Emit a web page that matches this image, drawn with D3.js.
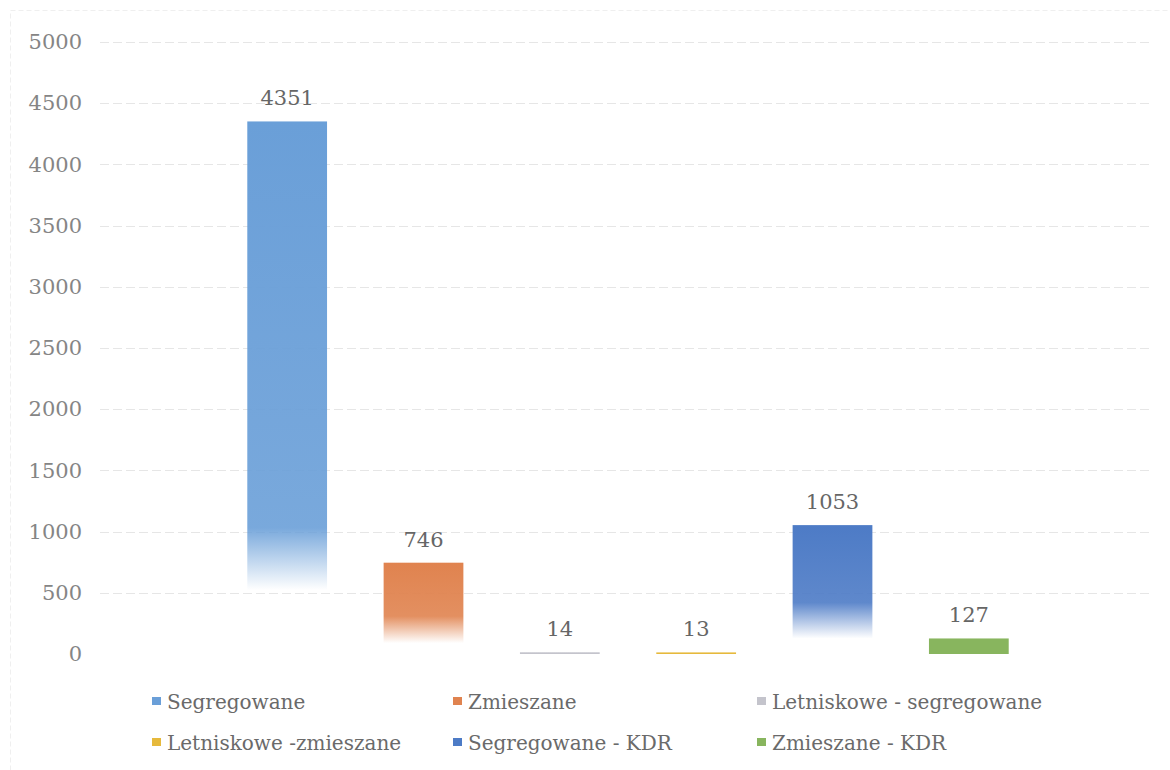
<!DOCTYPE html>
<html>
<head>
<meta charset="utf-8">
<script src="https://cdn.jsdelivr.net/npm/d3@7"></script>
<style>
    body { margin: 0; background: #fff; }
    svg text { font-family: "DejaVu Serif", serif; }
</style>
</head>
<body>
<div id="chart"></div>
<script>
(function () {

    'use strict';

    var categories = ['Segregowane', 'Zmieszane', 'Letniskowe - segregowane', 'Letniskowe -zmieszane', 'Segregowane - KDR', 'Zmieszane - KDR'];
    var values = [4351, 746, 14, 13, 1053, 127];
    var colors = ['#6a9fd8', '#e0834f', '#c4c4cc', '#e6b93c', '#4d7bc6', '#88b55e'];
    var yTicks = [0, 500, 1000, 1500, 2000, 2500, 3000, 3500, 4000, 4500, 5000];

    var width = 1170;
    var height = 770;

    var svg = d3.select('#chart')
        .append('svg')
            .attr('width', width)
            .attr('height', height);

    // faint frame of the scanned chart
    svg.append('rect')
        .attr('x', 10.5)
        .attr('y', 10.5)
        .attr('width', width - 10)
        .attr('height', height - 10)
        .attr('fill', 'none')
        .attr('stroke', '#efefef')
        .attr('stroke-dasharray', '5,3');

    var y = d3.scaleLinear()
        .domain([0, 5000])
        .range([654, 42]);

    var x = d3.scaleBand()
        .domain(categories)
        .range([219, 1037])
        .paddingInner(0.415)
        .paddingOuter(0.2075);

    // gridlines
    svg.append('g')
        .selectAll('line')
        .data(yTicks.filter(function (d) { return d > 0; }))
        .enter()
        .append('line')
            .attr('x1', 100)
            .attr('x2', 1152)
            .attr('y1', function (d) { return Math.round(y(d)) + 0.5; })
            .attr('y2', function (d) { return Math.round(y(d)) + 0.5; })
            .attr('stroke', '#e6e6e6')
            .attr('stroke-dasharray', '9,4');

    // y axis labels
    var yAxis = d3.axisLeft(y)
        .tickValues(yTicks)
        .tickFormat(d3.format('d'))
        .tickSize(0)
        .tickPadding(0);

    var yAxisG = svg.append('g')
        .attr('transform', 'translate(82,0)')
        .call(yAxis);

    yAxisG.select('.domain').remove();
    yAxisG.selectAll('text')
        .attr('font-family', '"DejaVu Serif", serif')
        .attr('font-size', '21px')
        .attr('fill', '#858585');

    // gradients - bars fade to white at the bottom like in the print
    var defs = svg.append('defs');

    categories.forEach(function (name, i) {
        var grad = defs.append('linearGradient')
            .attr('id', 'grad' + i)
            .attr('x1', 0).attr('y1', 0)
            .attr('x2', 0).attr('y2', 1);

        var h = y(0) - y(values[i]);

        if (h > 40) {
            var fadeStart = 0.55 + 0.04 * h / 100;
            grad.append('stop').attr('offset', 0).attr('stop-color', colors[i]);
            grad.append('stop').attr('offset', fadeStart).attr('stop-color', colors[i]).attr('stop-opacity', 0.9);
            grad.append('stop').attr('offset', 0.88).attr('stop-color', colors[i]).attr('stop-opacity', 0);
            grad.append('stop').attr('offset', 1).attr('stop-color', colors[i]).attr('stop-opacity', 0);
        } else {
            grad.append('stop').attr('offset', 0).attr('stop-color', colors[i]);
            grad.append('stop').attr('offset', 1).attr('stop-color', colors[i]);
        }
    });

    // bars
    svg.append('g')
        .selectAll('rect')
        .data(values)
        .enter()
        .append('rect')
            .attr('x', function (d, i) { return x(categories[i]); })
            .attr('y', function (d) { return y(d); })
            .attr('width', x.bandwidth())
            .attr('height', function (d) { return y(0) - y(d); })
            .attr('fill', function (d, i) { return 'url(#grad' + i + ')'; });

    // value labels
    svg.append('g')
        .selectAll('text')
        .data(values)
        .enter()
        .append('text')
            .attr('x', function (d, i) { return x(categories[i]) + x.bandwidth() / 2; })
            .attr('y', function (d) { return y(d) - 16; })
            .attr('text-anchor', 'middle')
            .attr('font-size', '21px')
            .attr('fill', '#666')
            .text(function (d) { return d; });

    // legend, 3 columns x 2 rows
    var legendCols = [152, 453, 757];
    var legendRows = [702, 743];

    var legendItem = svg.append('g')
        .selectAll('g')
        .data(categories)
        .enter()
        .append('g')
            .attr('transform', function (d, i) {
                return 'translate(' + legendCols[i % 3] + ',' + legendRows[Math.floor(i / 3)] + ')';
            });

    legendItem.append('rect')
        .attr('x', 0)
        .attr('y', -5)
        .attr('width', 9)
        .attr('height', 8)
        .attr('fill', function (d, i) { return colors[i]; });

    legendItem.append('text')
        .attr('x', 15)
        .attr('y', 0)
        .attr('dy', '0.35em')
        .attr('font-size', '20px')
        .attr('fill', '#6a6a6a')
        .text(function (d) { return d; });

}());
</script>
</body>
</html>
